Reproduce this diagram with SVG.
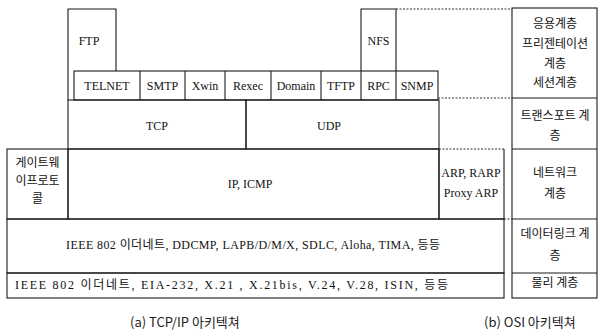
<svg xmlns="http://www.w3.org/2000/svg" width="602" height="331" viewBox="0 0 602 331">
<style>
.b{fill:none;stroke:#1a1a1a;stroke-width:1.1}
.d{fill:none;stroke:#333;stroke-width:1;stroke-dasharray:2,1.5}
.t{font-family:"Liberation Serif","Noto Sans CJK KR",serif;font-size:12px;fill:#111;text-anchor:middle}
.k{font-family:"Noto Sans CJK KR","Liberation Sans",sans-serif;font-size:12px;fill:#111;text-anchor:middle}
.c{font-family:"Noto Sans CJK KR","Liberation Sans",sans-serif;font-size:13px;fill:#222}
</style>
<rect width="602" height="331" fill="#fff"/>
<g id="ftp"><path class="b" d="M68,100V9H116V71"/><text class="t" x="89" y="45">FTP</text></g>
<g id="nfs"><path class="b" d="M361,71V9H396V71"/><text class="t" x="378.5" y="45" font-size="11">NFS</text></g>
<g id="app-row">
<rect class="b" x="74" y="71" width="364" height="29"/>
<path class="b" d="M140,71V100M185,71V100M225,71V100M271,71V100M321,71V100M361,71V100M396,71V100"/>
<text class="t" x="107" y="90">TELNET</text>
<text class="t" x="162.5" y="90">SMTP</text>
<text class="t" x="205" y="90">Xwin</text>
<text class="t" x="248" y="90">Rexec</text>
<text class="t" x="296" y="90">Domain</text>
<text class="t" x="341" y="90">TFTP</text>
<text class="t" x="378.5" y="90">RPC</text>
<text class="t" x="417" y="90">SNMP</text>
</g>
<g id="tcp"><rect class="b" x="68" y="100" width="178" height="49"/><text class="t" x="157" y="130">TCP</text></g>
<g id="udp"><rect class="b" x="246" y="100" width="193" height="49"/><text class="t" x="329" y="130">UDP</text></g>
<g id="gateway"><rect class="b" x="7" y="149" width="61" height="70"/>
<text class="k" x="37.5" y="167" font-size="11">게이트웨</text>
<text class="k" x="37.5" y="185" font-size="11">이프로토</text>
<text class="k" x="37.5" y="203" font-size="11">콜</text></g>
<g id="ip"><rect class="b" x="68" y="149" width="371" height="70"/><text class="t" x="250" y="188">IP, ICMP</text></g>
<g id="arp"><path class="b" d="M439,149V219H504V149"/>
<text class="t" x="471" y="177" font-size="10">ARP, RARP</text>
<text class="t" x="471" y="197" font-size="10">Proxy ARP</text></g>
<g id="datalink"><rect class="b" x="7" y="219" width="497" height="54"/>
<text class="t" x="253" y="249" font-size="11" textLength="374" lengthAdjust="spacing">IEEE 802 이더네트, DDCMP, LAPB/D/M/X, SDLC, Aloha, TIMA, 등등</text></g>
<g id="physical"><rect class="b" x="7" y="273" width="497" height="25"/>
<text class="t" x="231.5" y="289" font-size="11" textLength="433" lengthAdjust="spacing">IEEE 802 이더네트, EIA-232, X.21 , X.21bis, V.24, V.28, ISIN, 등등</text></g>
<g id="osi">
<rect class="b" x="512" y="8" width="85" height="290"/>
<path class="b" d="M512,98H597M512,149H597M512,219H597M512,273H597"/>
<text class="k" x="555" y="28">응용계층</text>
<text class="k" x="555" y="48">프리젠테이션</text>
<text class="k" x="555" y="68">계층</text>
<text class="k" x="555" y="87">세션계층</text>
<text class="k" x="555" y="120">트랜스포트 계</text>
<text class="k" x="555" y="140">층</text>
<text class="k" x="555" y="177">네트워크</text>
<text class="k" x="555" y="198">계층</text>
<text class="k" x="555" y="238">데이터링크 계</text>
<text class="k" x="555" y="260">층</text>
<text class="k" x="555" y="287">물리 계층</text>
</g>
<g id="connectors">
<path class="d" d="M396,9H512M438,98H512M439,149H504M504,219H512"/>
</g>
<text class="c" x="130" y="327">(a) TCP/IP 아키텍쳐</text>
<text class="c" x="484" y="327">(b) OSI 아키텍쳐</text>
</svg>
